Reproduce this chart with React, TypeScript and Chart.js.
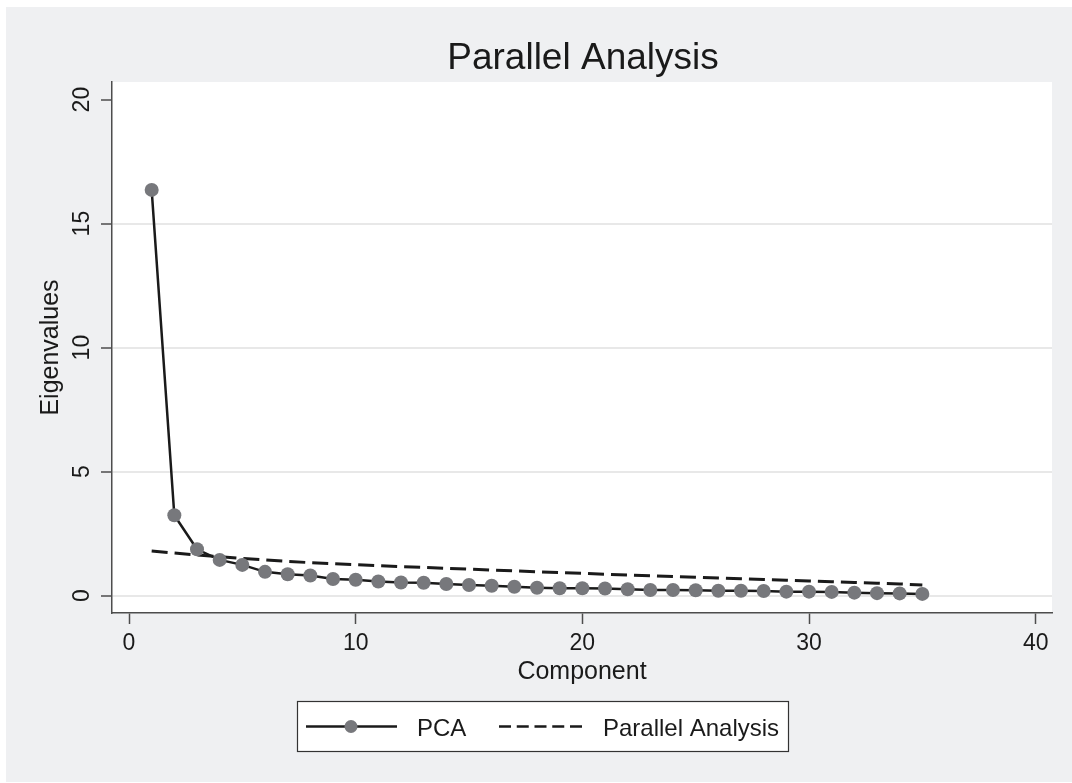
import { useEffect, useRef } from "react";
import { Chart, registerables } from "chart.js";

Chart.register(...registerables);

// Component number for each eigenvalue
const components = [
  1, 2, 3, 4, 5, 6, 7, 8, 9, 10, 11, 12, 13, 14, 15, 16, 17, 18, 19, 20,
  21, 22, 23, 24, 25, 26, 27, 28, 29, 30, 31, 32, 33, 34, 35,
];

// Observed eigenvalues (principal components)
const pcaEigenvalues = [
  16.36, 3.24, 1.87, 1.44, 1.24, 0.96, 0.86, 0.81, 0.67, 0.64, 0.57, 0.53,
  0.52, 0.47, 0.43, 0.4, 0.36, 0.32, 0.3, 0.3, 0.29, 0.26, 0.23, 0.23, 0.22,
  0.2, 0.2, 0.19, 0.16, 0.16, 0.15, 0.12, 0.1, 0.09, 0.07,
];

// Mean eigenvalues from random data (parallel analysis)
const parallelEigenvalues = [
  1.8, 1.72, 1.64, 1.57, 1.5, 1.44, 1.38, 1.33, 1.29, 1.25, 1.21, 1.17, 1.14,
  1.1, 1.07, 1.03, 1.0, 0.96, 0.93, 0.9, 0.86, 0.83, 0.8, 0.77, 0.74, 0.71,
  0.68, 0.65, 0.62, 0.59, 0.56, 0.53, 0.5, 0.47, 0.43,
];

const xTickValues = [0, 10, 20, 30, 40];
const yTickValues = [0, 5, 10, 15, 20];

const chartTitle = "Parallel Analysis";
const xTitle = "Component";
const yTitle = "Eigenvalues";
const seriesNames = ["PCA", "Parallel Analysis"];

const FONT = '"Liberation Sans", Arial, Helvetica, sans-serif';
const INK = "#1a1a1a";
const AXIS = "#4d4d4d";
const MARKER = "#77787c";
const PAGE_BG = "#eff0f2";
const GRID = "#e8e8e8";
const PA_DASH = [16, 7];

const decorations = {
  id: "decorations",
  beforeDraw(chart: any) {
    const { ctx, chartArea, width, height } = chart;
    ctx.save();
    ctx.fillStyle = "#ffffff";
    ctx.fillRect(0, 0, width, height);
    ctx.fillStyle = PAGE_BG;
    ctx.fillRect(6, 7, width - 6, height - 8);
    ctx.fillStyle = "#ffffff";
    ctx.fillRect(
      chartArea.left,
      chartArea.top,
      chartArea.right - chartArea.left,
      chartArea.bottom - chartArea.top
    );
    ctx.restore();
  },
  afterDraw(chart: any) {
    const { ctx, chartArea, scales } = chart;
    ctx.save();

    // Title
    ctx.fillStyle = INK;
    ctx.font = `37px ${FONT}`;
    ctx.textAlign = "center";
    ctx.textBaseline = "alphabetic";
    ctx.fillText(chartTitle, (chartArea.left + chartArea.right) / 2 + 1, 69);

    // Vertical y tick labels
    ctx.font = `23px ${FONT}`;
    ctx.fillStyle = INK;
    for (const v of yTickValues) {
      const y = scales.y.getPixelForValue(v);
      ctx.save();
      ctx.translate(89, y);
      ctx.rotate(-Math.PI / 2);
      ctx.textAlign = "center";
      ctx.textBaseline = "alphabetic";
      ctx.fillText(String(v), 0, 0);
      ctx.restore();
    }

    // Legend box
    const bx = 297, by = 701, bw = 492, bh = 51;
    const cy = by + bh / 2;
    ctx.fillStyle = "#ffffff";
    ctx.fillRect(bx, by, bw, bh);
    ctx.strokeStyle = "#333333";
    ctx.lineWidth = 1.2;
    ctx.strokeRect(bx + 0.5, by + 0.5, bw - 1, bh - 1);

    ctx.strokeStyle = INK;
    ctx.lineWidth = 2.5;
    ctx.beginPath();
    ctx.moveTo(306, cy);
    ctx.lineTo(397, cy);
    ctx.stroke();
    ctx.fillStyle = MARKER;
    ctx.beginPath();
    ctx.arc(351, cy, 6.5, 0, Math.PI * 2);
    ctx.fill();

    ctx.setLineDash([12, 5.75]);
    ctx.lineWidth = 2.5;
    ctx.beginPath();
    ctx.moveTo(499, cy);
    ctx.lineTo(582, cy);
    ctx.stroke();
    ctx.setLineDash([]);

    ctx.fillStyle = INK;
    ctx.font = `24px ${FONT}`;
    ctx.textAlign = "left";
    ctx.textBaseline = "alphabetic";
    ctx.fillText(seriesNames[0], 417, cy + 9);
    ctx.fillText(seriesNames[1], 603, cy + 9);

    ctx.restore();
  },
};

export default function App() {
  const canvasRef = useRef<HTMLCanvasElement | null>(null);

  useEffect(() => {
    document.body.style.margin = "0";
    const canvas = canvasRef.current;
    if (!canvas) return;

    const chart = new Chart(canvas, {
      type: "line",
      data: {
        datasets: [
          {
            label: seriesNames[0],
            data: components.map((c, i) => ({ x: c, y: pcaEigenvalues[i] })),
            borderColor: INK,
            borderWidth: 2.5,
            pointRadius: 7,
            pointBackgroundColor: MARKER,
            pointBorderColor: MARKER,
            pointBorderWidth: 0,
            tension: 0,
            fill: false,
          },
          {
            label: seriesNames[1],
            data: components.map((c, i) => ({ x: c, y: parallelEigenvalues[i] })),
            borderColor: INK,
            borderWidth: 3,
            borderDash: PA_DASH,
            pointRadius: 0,
            tension: 0,
            fill: false,
          },
        ],
      },
      options: {
        animation: false,
        responsive: false,
        maintainAspectRatio: false,
        events: [],
        layout: { padding: { left: 0, right: 20, top: 82, bottom: 90 } },
        plugins: {
          legend: { display: false },
          title: { display: false },
          tooltip: { enabled: false },
        },
        scales: {
          x: {
            type: "linear",
            min: -0.75,
            max: 40.72,
            afterBuildTicks: (scale: any) => {
              scale.ticks = xTickValues.map((v) => ({ value: v }));
            },
            afterFit: (scale: any) => {
              scale.height = 80;
            },
            grid: {
              drawOnChartArea: false,
              drawTicks: true,
              tickLength: 11,
              tickColor: AXIS,
              tickWidth: 1.5,
            },
            border: { display: true, color: AXIS, width: 1.5 },
            ticks: {
              color: INK,
              font: { family: FONT, size: 23 },
              padding: 6,
              maxRotation: 0,
              minRotation: 0,
            },
            title: {
              display: true,
              text: xTitle,
              color: INK,
              font: { family: FONT, size: 25 },
              padding: { top: 0, bottom: 6 },
            },
          },
          y: {
            type: "linear",
            min: -0.7,
            max: 20.71,
            afterBuildTicks: (scale: any) => {
              scale.ticks = yTickValues.map((v) => ({ value: v }));
            },
            afterFit: (scale: any) => {
              scale.width = 112;
            },
            grid: {
              drawOnChartArea: true,
              drawTicks: true,
              tickLength: 11,
              color: (ctx: any) =>
                ctx.tick && ctx.tick.value === 20 ? "rgba(0,0,0,0)" : GRID,
              lineWidth: 2,
              tickColor: AXIS,
              tickWidth: 1.5,
            },
            border: { display: true, color: AXIS, width: 1.5 },
            ticks: { display: false },
            title: {
              display: true,
              text: yTitle,
              color: INK,
              font: { family: FONT, size: 25 },
              padding: { top: 36, bottom: 0 },
            },
          },
        },
      },
      plugins: [decorations],
    });

    return () => chart.destroy();
  }, []);

  return (
    <div style={{ width: 1072, height: 783, position: "relative" }}>
      <canvas ref={canvasRef} width={1072} height={783} style={{ display: "block" }} />
    </div>
  );
}
